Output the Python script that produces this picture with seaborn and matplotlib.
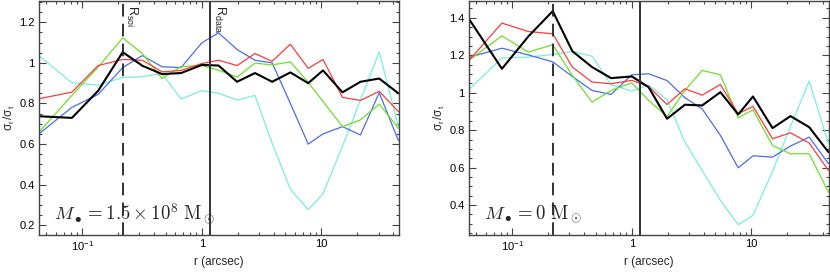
import numpy as np
import pandas as pd
import matplotlib
matplotlib.use("Agg")
import matplotlib.pyplot as plt
import matplotlib.ticker as mticker
import seaborn as sns

# radial bins (arcsec)
r = [0.044, 0.082, 0.136, 0.218, 0.318, 0.465, 0.67, 1.0, 1.38, 1.97, 2.78,
     3.87, 5.5, 7.75, 10.3, 15.0, 21.2, 30.4, 44.0]

# Left panel: M_BH = 1.5e8
left_black = [0.737, 0.729, 0.863, 1.053, 0.986, 0.945, 0.950, 0.990, 0.987, 0.907,
              0.950, 0.907, 0.953, 0.900, 0.963, 0.855, 0.907, 0.923, 0.850]
left_red = [0.824, 0.856, 0.987, 1.017, 1.013, 0.956, 0.963, 0.997, 1.013, 0.987,
            1.046, 1.008, 1.092, 0.973, 1.017, 0.830, 0.815, 0.860, 0.760]
left_green = [0.662, 0.840, 0.980, 1.123, 1.046, 0.923, 0.982, 0.987, 0.964, 0.930,
              0.999, 0.990, 1.005, 0.904, 0.810, 0.686, 0.719, 0.797, 0.678]
left_blue = [0.653, 0.781, 0.845, 0.977, 1.036, 0.981, 0.977, 1.099, 1.148, 1.066,
             1.013, 1.000, 0.800, 0.600, 0.650, 0.686, 0.645, 0.853, 0.617]
left_cyan = [1.033, 0.902, 0.891, 0.928, 0.932, 0.948, 0.822, 0.863, 0.850, 0.817,
             0.840, 0.604, 0.378, 0.277, 0.355, 0.590, 0.817, 1.054, 0.686]

# Right panel: M_BH = 0
right_black = [1.389, 1.128, 1.300, 1.436, 1.222, 1.137, 1.078, 1.087, 1.030, 0.861,
               0.936, 0.932, 1.003, 0.884, 0.980, 0.811, 0.875, 0.816, 0.683]
right_red = [1.176, 1.372, 1.327, 1.315, 1.137, 1.057, 1.048, 1.066, 1.033, 0.937,
             1.021, 0.987, 1.044, 0.888, 0.927, 0.754, 0.786, 0.731, 0.585]
right_green = [1.176, 1.304, 1.217, 1.256, 1.092, 0.950, 1.012, 1.053, 0.959, 0.873,
               1.012, 1.119, 1.096, 0.866, 0.909, 0.718, 0.674, 0.674, 0.469]
right_blue = [1.190, 1.238, 1.202, 1.165, 1.087, 1.012, 0.991, 1.096, 1.101, 1.065,
              0.973, 0.914, 0.772, 0.599, 0.663, 0.656, 0.715, 0.763, 0.621]
right_cyan = [1.021, 1.186, 1.190, 1.204, 1.220, 1.195, 1.042, 1.009, 1.041, 0.962,
              0.736, 0.585, 0.425, 0.295, 0.345, 0.580, 0.820, 1.062, 0.730]

r_soi = 0.218
r_data = 1.18

series_names = ["cyan", "blue", "green", "red", "black"]
colors = {"cyan": "#7aeedc", "blue": "#4b6cf0", "green": "#6ee02a",
          "red": "#ff3b3b", "black": "#000000"}
widths = {"cyan": 0.9, "blue": 0.9, "green": 0.9, "red": 0.9, "black": 1.5}

sns.set_style("ticks")
plt.rcParams["font.family"] = ["Liberation Sans", "DejaVu Sans"]
plt.rcParams["mathtext.fontset"] = "cm"

fig = plt.figure(figsize=(8.30, 2.74), dpi=100)
axL = fig.add_axes([39 / 830, 39 / 274, 360 / 830, 234 / 274])
axR = fig.add_axes([469 / 830, 39 / 274, 360 / 830, 234 / 274])

panels = [
    (axL, [left_cyan, left_blue, left_green, left_red, left_black], (0.152, 1.305),
     r"$M_\bullet = 1.5\times10^8\ \mathrm{M_\odot}$", True),
    (axR, [right_cyan, right_blue, right_green, right_red, right_black], (0.24, 1.49),
     r"$M_\bullet = 0\ \mathrm{M_\odot}$", False),
]

for ax, vals, ylim, label, show_r in panels:
    frames = []
    for name, v in zip(series_names, vals):
        frames.append(pd.DataFrame({"r": r, "ratio": v, "series": name}))
    df = pd.concat(frames, ignore_index=True)
    for name in series_names:
        sub = df[df["series"] == name]
        sns.lineplot(data=sub, x="r", y="ratio", ax=ax, color=colors[name],
                     lw=widths[name], estimator=None, sort=False, legend=False)
    ax.set_xscale("log")
    ax.set_xlim(0.0435, 44.5)
    ax.set_ylim(*ylim)
    ax.axvline(r_soi, color="#222222", lw=1.3, ls=(0, (7, 4)))
    ax.axvline(r_data, color="#333333", lw=1.4)
    if show_r:
        ax.text(r_soi * 1.025, ylim[1] - 0.02, r"R$_\mathregular{soi}$", rotation=-90,
                ha="left", va="top", fontsize=9)
        ax.text(r_data * 1.025, ylim[1] - 0.02, r"R$_\mathregular{data}$", rotation=-90,
                ha="left", va="top", fontsize=9)
    ax.text(0.042, 0.09, label, transform=ax.transAxes, fontsize=13.5,
            ha="left", va="center")
    ax.set_xlabel("r (arcsec)", fontsize=8.5, labelpad=2)
    ax.set_ylabel(r"σ$_\mathregular{r}$/σ$_\mathregular{t}$", fontsize=8.5, labelpad=2)
    ax.xaxis.set_major_locator(mticker.FixedLocator([0.1, 1, 10]))
    ax.xaxis.set_major_formatter(mticker.FixedFormatter([r"10$^\mathregular{-1}$", "1", "10"]))
    ax.xaxis.set_minor_locator(mticker.LogLocator(base=10, subs=np.arange(2, 10)))
    ax.xaxis.set_minor_formatter(mticker.NullFormatter())
    ax.yaxis.set_major_locator(mticker.MultipleLocator(0.2))
    ax.yaxis.set_minor_locator(mticker.MultipleLocator(0.05))
    ax.yaxis.set_major_formatter(mticker.FuncFormatter(
        lambda v, p: "1" if abs(v - 1) < 1e-6 else f"{v:.1f}"))
    ax.tick_params(which="both", direction="in", top=True, right=True,
                   labelsize=8, width=0.8, colors="#444444", labelcolor="black", pad=3)
    ax.tick_params(which="major", length=5)
    ax.tick_params(which="minor", length=2.5)
    for s in ax.spines.values():
        s.set_linewidth(1.0)
        s.set_color("#444444")

fig.savefig("out.png", dpi=100)
